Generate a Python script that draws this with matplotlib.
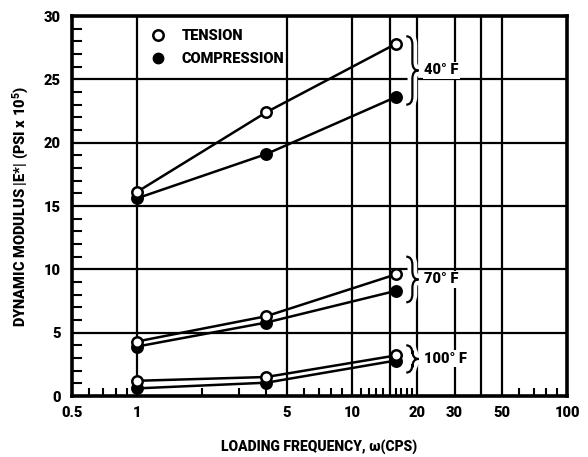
import matplotlib
matplotlib.use("Agg")
import matplotlib.pyplot as plt
from matplotlib.path import Path
from matplotlib.patches import PathPatch
from matplotlib.ticker import FixedLocator, NullFormatter

# ---------------- data ----------------
freq = [1, 4, 16]
t40 = [16.1, 22.4, 27.8]
c40 = [15.6, 19.1, 23.6]
t70 = [4.3, 6.3, 9.6]
c70 = [3.9, 5.8, 8.3]
t100 = [1.2, 1.5, 3.2]
c100 = [0.6, 1.05, 2.8]
temp_labels = ["40° F", "70° F", "100° F"]
brace_ranges = [(23.0, 28.4), (7.4, 11.0), (1.85, 4.0)]
xtick_vals = [0.5, 1, 5, 10, 20, 30, 50, 100]
xtick_labels = ["0.5", "1", "5", "10", "20", "30", "50", "100"]
xgrid_vals = [1, 5, 10, 15, 20, 30, 40, 50]
xminor_vals = [0.6, 0.7, 0.8, 0.9, 2, 3, 4, 6, 7, 8, 9, 11, 12, 13, 14,
               16, 17, 18, 19, 60, 70, 80, 90]
ytick_vals = [0, 5, 10, 15, 20, 25, 30]
ygrid_vals = [5, 10, 15, 20, 25]

W = 'heavy'
fam = ['Roboto', 'DejaVu Sans']
plt.rcParams['font.family'] = fam
plt.rcParams['font.weight'] = W
plt.rcParams['mathtext.fontset'] = 'custom'
plt.rcParams['mathtext.rm'] = 'Roboto:heavy'
plt.rcParams['mathtext.it'] = 'Roboto:italic:heavy'
plt.rcParams['mathtext.bf'] = 'Roboto:heavy'

fig = plt.figure(figsize=(5.88, 4.57), dpi=100)
ax = fig.add_axes([72/588, 1 - 396/457, (567-72)/588, (396-16)/457])
ax.set_xscale('log')
ax.set_xlim(0.5, 100)
ax.set_ylim(0, 30)

for s in ax.spines.values():
    s.set_linewidth(2.6)

for g in xgrid_vals:
    ax.axvline(g, color='black', lw=1.6, zorder=1)
for g in ygrid_vals:
    ax.axhline(g, color='black', lw=1.6, zorder=1)

ax.xaxis.set_major_locator(FixedLocator(xtick_vals))
ax.set_xticklabels(xtick_labels)
ax.xaxis.set_minor_locator(FixedLocator(xminor_vals))
ax.xaxis.set_minor_formatter(NullFormatter())
ax.set_yticks(ytick_vals)
ax.yaxis.set_minor_locator(FixedLocator([v for v in range(1, 30) if v % 5 != 0]))
ax.tick_params(axis='x', which='major', length=0, pad=7, labelsize=10.5)
ax.tick_params(axis='y', which='major', length=0, pad=8, labelsize=10.5)
ax.tick_params(axis='x', which='minor', direction='in', length=6, width=1.5)
ax.tick_params(axis='y', which='minor', direction='in', length=7, width=1.5)
for lab in ax.get_xticklabels() + ax.get_yticklabels():
    lab.set_fontweight(W)

ms = 7.5
for t, c in [(t40, c40), (t70, c70), (t100, c100)]:
    ax.plot(freq, t, color='black', lw=1.8, marker='o', ms=ms, mfc='white',
            mec='black', mew=1.8, zorder=4)
    ax.plot(freq, c, color='black', lw=1.8, marker='o', ms=ms, mfc='black',
            mec='black', mew=1.8, zorder=3)

# legend
ax.plot([], [], 'o', color='black', mfc='white', mew=1.8, ms=ms, label='TENSION')
ax.plot([], [], 'o', color='black', mfc='black', ms=ms, label='COMPRESSION')
leg = ax.legend(loc='upper left', bbox_to_anchor=(0.13, 1.0), frameon=False,
                handlelength=1.2, handletextpad=1.0, labelspacing=0.6,
                prop={'weight': W, 'size': 10.5, 'family': fam})
leg.set_zorder(6)


def brace(ax, xl, xr, ylo, yhi):
    tr = lambda x, y: ax.transAxes.inverted().transform(ax.transData.transform((x, y)))
    x0, yb = tr(xl, ylo)
    x1, yt = tr(xr, yhi)
    xm = (x0 + x1) / 2
    ym = (yb + yt) / 2
    r = 0.022
    verts = [(x0, yt), (xm, yt), (xm, yt - r), (xm, ym + r), (xm, ym), (x1, ym),
             (xm, ym), (xm, ym - r), (xm, yb + r), (xm, yb), (x0, yb)]
    codes = [Path.MOVETO, Path.CURVE3, Path.CURVE3, Path.LINETO, Path.CURVE3, Path.CURVE3,
             Path.CURVE3, Path.CURVE3, Path.LINETO, Path.CURVE3, Path.CURVE3]
    p = Path(verts, codes)
    ax.add_patch(PathPatch(p, transform=ax.transAxes, fc='none', ec='white', lw=7, zorder=5))
    ax.add_patch(PathPatch(p, transform=ax.transAxes, fc='none', ec='black', lw=1.6, zorder=5.5))
    return x1, ym


for lab, (lo, hi) in zip(temp_labels, brace_ranges):
    xt, yt = brace(ax, 17.9, 20.4, lo, hi)
    ax.text(xt + 0.012, yt, lab, transform=ax.transAxes, ha='left', va='center',
            fontsize=10.5, fontweight=W, zorder=6,
            bbox=dict(fc='white', ec='none', pad=1.0))

ax.set_xlabel("LOADING FREQUENCY, ω(CPS)", fontsize=10, fontweight=W, labelpad=14)
ax.set_ylabel("DYNAMIC MODULUS |E*| (PSI x 10$^5$)", fontsize=10.5, fontweight=W, labelpad=9)

fig.savefig("out.png", dpi=100)
